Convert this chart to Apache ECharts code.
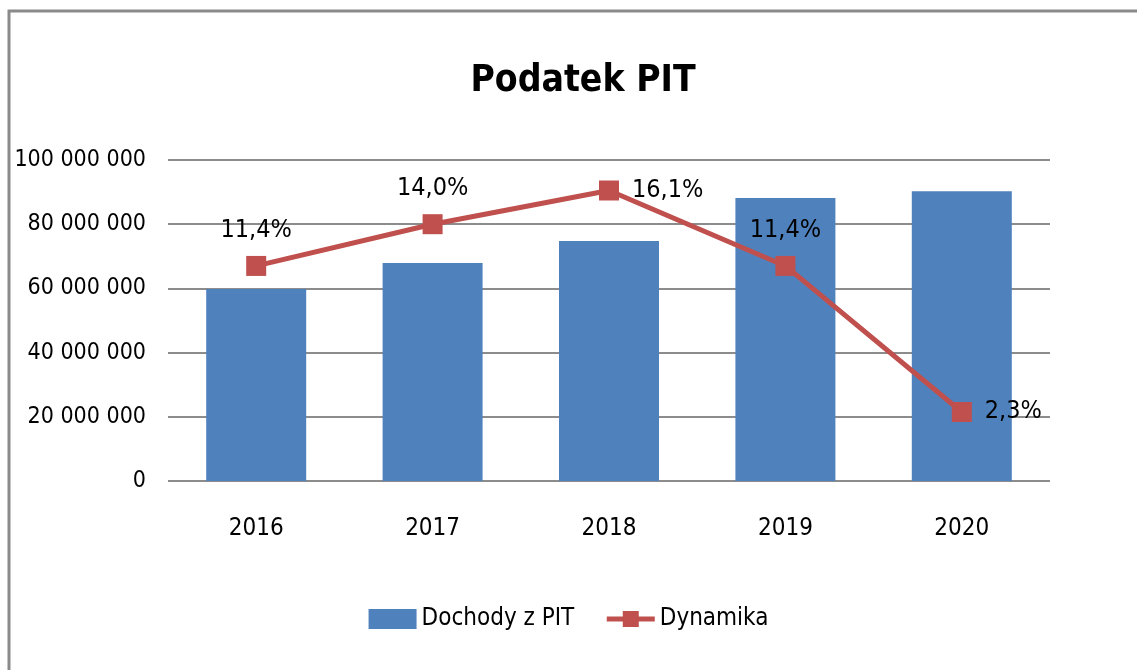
<!DOCTYPE html>
<html>
<head>
<meta charset="utf-8">
<script src="https://cdn.jsdelivr.net/npm/echarts@6/dist/echarts.min.js"></script>
<style>
  html, body { margin: 0; padding: 0; background: #fff; }
  #chart { width: 1137px; height: 670px; }
</style>
</head>
<body>
<div id="chart"></div>
<script>
const years = ['2016', '2017', '2018', '2019', '2020']
const dochody = [59800000, 67900000, 74800000, 88200000, 90300000]
const dynamika = [11.4, 14.0, 16.1, 11.4, 2.3]
const dynamikaLabelPos = ['top', 'top', 'right', 'top', 'right']

const FONT = '"Liberation Sans Narrow", "DejaVu Sans Condensed", "Liberation Sans", sans-serif'

const fmtMoney = v => String(v).replace(/\B(?=(\d{3})+(?!\d))/g, ' ')
const fmtPct = v => v.toFixed(1).replace('.', ',') + '%'

const chart = echarts.init(document.getElementById('chart'))
chart.setOption({
  animation: false,
  title: {
    text: 'Podatek PIT',
    left: 578,
    top: 58,
    textAlign: 'center',
    textStyle: { fontFamily: FONT, fontSize: 37, fontWeight: 'bold', color: '#000' }
  },
  legend: {
    bottom: 34,
    left: 'center',
    itemWidth: 48,
    itemHeight: 20,
    itemGap: 30,
    textStyle: { fontFamily: FONT, fontSize: 24, color: '#000' },
    data: [
      { name: 'Dochody z PIT', icon: 'rect' },
      { name: 'Dynamika', lineStyle: { width: 5 } }
    ]
  },
  grid: { left: 168, right: 87, top: 160, bottom: 189 },
  xAxis: {
    type: 'category',
    data: years,
    axisTick: { show: false },
    axisLine: { show: false },
    axisLabel: { margin: 36, fontFamily: FONT, fontSize: 24, color: '#000' }
  },
  yAxis: [
    {
      type: 'value',
      min: 0,
      max: 100000000,
      interval: 20000000,
      axisLabel: { margin: 22, fontFamily: FONT, fontSize: 23, color: '#000', formatter: fmtMoney },
      splitLine: { lineStyle: { color: '#8c8c8c', width: 2 } }
    },
    {
      type: 'value',
      min: -2,
      max: 18,
      interval: 2,
      show: false,
      splitLine: { show: false }
    }
  ],
  series: [
    {
      name: 'Dochody z PIT',
      type: 'bar',
      data: dochody,
      barWidth: 100,
      itemStyle: { color: '#4F81BD' }
    },
    {
      name: 'Dynamika',
      type: 'line',
      yAxisIndex: 1,
      data: dynamika.map((v, i) => ({
        value: v,
        label: { position: dynamikaLabelPos[i] }
      })),
      symbol: 'rect',
      symbolSize: 20,
      z: 5,
      lineStyle: { color: '#C0504D', width: 5 },
      itemStyle: { color: '#C0504D' },
      label: {
        show: true,
        distance: 13,
        fontFamily: FONT,
        fontSize: 25,
        color: '#000',
        formatter: p => fmtPct(p.value)
      }
    }
  ],
  graphic: [
    {
      type: 'polyline',
      shape: { points: [[9, 670], [9, 11], [1137, 11]] },
      style: { stroke: '#8a8a8a', lineWidth: 3, fill: null }
    }
  ]
})
</script>
</body>
</html>
